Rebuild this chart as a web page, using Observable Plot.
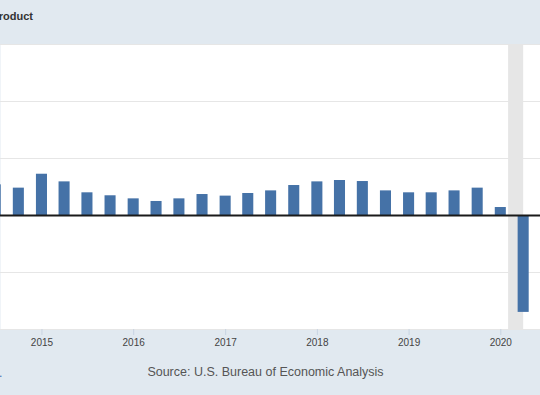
<!DOCTYPE html>
<html>
<head>
<meta charset="utf-8">
<script src="https://cdn.jsdelivr.net/npm/d3@7"></script>
<script src="https://cdn.jsdelivr.net/npm/@observablehq/plot@0.6"></script>
<style>
  body { margin: 0; }
  #wrap { position: relative; width: 540px; height: 395px; overflow: hidden; background: #e1e9f0; font-family: "Liberation Sans", Arial, sans-serif; }
  #head { position: relative; height: 43px; }
  #title { position: absolute; right: 507px; top: 10px; white-space: nowrap; font-size: 11px; font-weight: bold; color: #333; }
  #chart { position: absolute; left: 0; top: 43px; }
  #source { position: absolute; left: 0; width: 531px; text-align: center; top: 365px; font-size: 12.5px; color: #555; white-space: nowrap; }
  #link { position: absolute; left: -1px; top: 366px; font-size: 12px; color: #3d6fb5; }
</style>
</head>
<body>
<div id="wrap">
  <div id="head"><span id="title">Real Gross Domestic Product</span></div>
  <div id="chart"></div>
  <div id="link">.</div>
  <div id="source">Source: U.S. Bureau of Economic Analysis</div>
</div>
<script>
// Observation dates (quarter starts) and percent change from year ago
const quarters = [
  "2014-07-01", "2014-10-01",
  "2015-01-01", "2015-04-01", "2015-07-01", "2015-10-01",
  "2016-01-01", "2016-04-01", "2016-07-01", "2016-10-01",
  "2017-01-01", "2017-04-01", "2017-07-01", "2017-10-01",
  "2018-01-01", "2018-04-01", "2018-07-01", "2018-10-01",
  "2019-01-01", "2019-04-01", "2019-07-01", "2019-10-01",
  "2020-01-01", "2020-04-01"
];
const values = [
  2.69, 2.40,
  3.62, 2.95, 1.99, 1.73,
  1.46, 1.23, 1.46, 1.84,
  1.70, 1.93, 2.16, 2.63,
  2.95, 3.07, 2.98, 2.16,
  1.99, 1.99, 2.16, 2.40,
  0.70, -8.5
];
// Recession shading
const recessionStart = ["2020-02-01"];
const recessionEnd = ["2020-04-01"];
// Axis ticks
const yearTicks = ["2015-01-01", "2016-01-01", "2017-01-01", "2018-01-01", "2019-01-01", "2020-01-01"];
const yTicks = [-10, -5, 0, 5, 10, 15];
const xDomain = ["2014-07-20", "2020-06-07"];
const yDomain = [-10, 15];

const parse = d3.utcParse("%Y-%m-%d");
const data = quarters.map((q, i) => ({date: parse(q), value: values[i]}));
const recessions = recessionStart.map((s, i) => ({start: parse(s), end: parse(recessionEnd[i])}));

const chart = Plot.plot({
  width: 540,
  height: 310,
  marginTop: 1,
  marginBottom: 24,
  marginLeft: 0,
  marginRight: 0,
  style: { background: "transparent", fontFamily: "'Liberation Sans', Arial, sans-serif", overflow: "visible" },
  x: { type: "utc", domain: xDomain.map(parse) },
  y: { domain: yDomain, axis: null },
  marks: [
    Plot.frame({ fill: "white", stroke: "none" }),
    Plot.gridY(yTicks, { stroke: "#e6e6e6", strokeOpacity: 1 }),
    Plot.rect(recessions, { x1: "start", x2: "end", fill: "#e6e6e6" }),
    Plot.rectY(data, {
      x1: d => d3.utcDay.offset(d.date, -22),
      x2: d => d3.utcDay.offset(d.date, 22),
      y: "value",
      fill: "#4572a7"
    }),
    Plot.ruleY([0], { stroke: "#1a1a1a", strokeWidth: 2 }),
    Plot.axisX(yearTicks.map(parse), {
      tickFormat: d3.utcFormat("%Y"),
      tickSize: 6,
      tickPadding: 3,
      stroke: "#c8d4e2",
      fill: "#444",
      fontSize: 10
    })
  ]
});
document.getElementById("chart").appendChild(chart);
</script>
</body>
</html>
